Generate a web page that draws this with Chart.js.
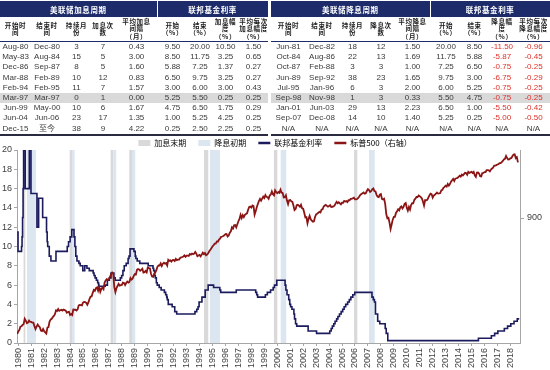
<!DOCTYPE html>
<html>
<head>
<meta charset="utf-8">
<script src="https://cdn.jsdelivr.net/npm/chart.js@4.4.0/dist/chart.umd.min.js"></script>
<style>
body { margin: 0; width: 550px; height: 370px; background: #fff; overflow: hidden; position: relative; }
.tbl { position: absolute; top: 1px; border-collapse: collapse; table-layout: fixed; font: 8px "Liberation Sans", "Noto Sans CJK SC", sans-serif; color: #3a3a3a; }
.tbl th, .tbl td { padding: 0; text-align: center; white-space: nowrap; }
.tbl td { overflow: hidden; }
.tbl tr.r1 th { height: 16px; background: #1d2b6b; color: #fff; font: bold 7.5px "Noto Sans CJK SC", sans-serif; letter-spacing: 0.6px; border-right: 1px solid #fff; }
.tbl tr.r2 th { height: 24px; font: bold 6.5px/7.4px "Noto Sans CJK SC", sans-serif; letter-spacing: 0.6px; color: #1a1a1a; border-bottom: 1px solid #1d2b6b; vertical-align: middle; }
.tbl tr.rd td { height: 10.2px; line-height: 10px; }
.tbl tr.hl td { background: #d9d9d9; }
.tbl tr.last td { border-bottom: 2px solid #2a2a40; }
.tbl td.neg { color: #e0302a; }
#wrap { position: absolute; left: 0; top: 135px; width: 550px; height: 235px; }
</style>
</head>
<body>
<div id="wrap"><canvas id="myChart"></canvas></div>
<script>
// ---- table data ----
var hikeTitles = ['美联储加息周期', '联邦基金利率'];
var hikeHeads = ['开始时\n间', '结束时\n间', '持续月\n份', '加息次\n数', '平均加息\n间隔\n（月）', '开始\n（%）', '结束\n（%）', '加息幅\n度\n（%）', '平均每次\n加息幅度\n（%）'];
var hikeStart = ['Aug-80', 'May-83', 'Dec-86', 'Mar-88', 'Feb-94', 'Mar-97', 'Jun-99', 'Jun-04', 'Dec-15'];
var hikeEnd = ['Dec-80', 'Aug-84', 'Sep-87', 'Feb-89', 'Feb-95', 'Mar-97', 'May-00', 'Jun-06', '至今'];
var hikeMonths = ['3', '15', '8', '10', '11', '0', '10', '23', '38'];
var hikeCount = ['7', '5', '5', '12', '7', '1', '6', '17', '9'];
var hikeInterval = ['0.43', '3.00', '1.60', '0.83', '1.57', '0.00', '1.67', '1.35', '4.22'];
var hikeRateFrom = ['9.50', '8.50', '5.88', '6.50', '3.00', '5.25', '4.75', '1.00', '0.25'];
var hikeRateTo = ['20.00', '11.75', '7.25', '9.75', '6.00', '5.50', '6.50', '5.25', '2.50'];
var hikeSize = ['10.50', '3.25', '1.37', '3.25', '3.00', '0.25', '1.75', '4.25', '2.25'];
var hikeAvg = ['1.50', '0.65', '0.27', '0.27', '0.43', '0.25', '0.29', '0.25', '0.25'];

var cutTitles = ['美联储降息周期', '联邦基金利率'];
var cutHeads = ['开始时\n间', '结束时\n间', '持续月\n份', '降息次\n数', '平均降息\n间隔\n（月）', '开始\n（%）', '结束\n（%）', '降息幅\n度\n（%）', '平均每次\n降息幅度\n（%）'];
var cutStart = ['Jun-81', 'Oct-84', 'Oct-87', 'Jun-89', 'Jul-95', 'Sep-98', 'Jan-01', 'Sep-07', 'N/A'];
var cutEnd = ['Dec-82', 'Aug-86', 'Feb-88', 'Sep-92', 'Jan-96', 'Nov-98', 'Jun-03', 'Dec-08', 'N/A'];
var cutMonths = ['18', '22', '3', '38', '6', '1', '29', '14', 'N/A'];
var cutCount = ['12', '13', '3', '23', '3', '3', '13', '10', 'N/A'];
var cutInterval = ['1.50', '1.69', '1.00', '1.65', '2.00', '0.33', '2.23', '1.40', 'N/A'];
var cutRateFrom = ['20.00', '11.75', '7.25', '9.75', '6.00', '5.50', '6.50', '5.25', 'N/A'];
var cutRateTo = ['8.50', '5.88', '6.50', '3.00', '5.25', '4.75', '1.00', '0.25', 'N/A'];
var cutSize = ['-11.50', '-5.87', '-0.75', '-6.75', '-0.75', '-0.75', '-5.50', '-5.00', 'N/A'];
var cutAvg = ['-0.96', '-0.45', '-0.25', '-0.29', '-0.25', '-0.25', '-0.42', '-0.50', 'N/A'];

// ---- chart data ----
var xTickLabels = ['1980','1981','1982','1983','1984','1985','1986','1987','1988','1989','1990','1991','1992','1993','1994','1995','1996','1997','1998','1999','2000','2001','2002','2003','2004','2005','2006','2007','2008','2009','2010','2011','2012','2013','2014','2015','2016','2017','2018'];

// fed funds target: date (decimal year) of each change and the new rate
var fedDates = [1980.33,1980.40,1980.67,1980.71,1980.75,1980.79,1980.83,1980.96,1981.27,1981.40,1981.86,1981.99,1982.30,1982.60,1982.65,1982.69,1982.81,1982.94,1983.33,
  1984.20,1984.30,1984.42,1984.55,1984.72,1984.79,1984.86,1984.95,1985.10,1985.20,1985.40,1985.55,1985.72,1985.90,1986.20,1986.27,1986.35,1986.45,1986.55,1986.62,
  1987.13,1987.30,1987.45,1987.58,1987.80,1987.90,1988.30,1988.40,1988.50,1988.60,1988.75,1988.90,1988.97,1989.05,1989.35,1989.45,1989.50,1989.60,1989.80,
  1990.45,1990.82,1990.87,1990.95,1991.00,1991.08,1991.15,1991.30,1991.45,1991.70,1991.80,1991.88,1991.92,1992.00,1992.30,1992.50,1992.65,
  1994.06,1994.20,1994.30,1994.38,1994.60,1994.85,1995.08,1995.50,1995.98,1996.05,1997.25,1998.75,1998.83,1998.90,1999.50,1999.65,1999.90,2000.10,2000.20,2000.38,
  2001.02,2001.08,2001.17,2001.30,2001.38,2001.45,2001.55,2001.70,2001.75,2001.83,2001.92,2002.80,2003.45,
  2004.47,2004.58,2004.67,2004.78,2004.88,2005.00,2005.10,2005.22,2005.35,2005.47,2005.58,2005.70,2005.85,2005.98,2006.10,2006.25,2006.40,
  2007.73,2007.83,2007.92,2008.00,2008.17,2008.33,2008.75,2008.83,2008.95,
  2015.95,2016.95,2017.20,2017.45,2017.95,2018.20,2018.45,2018.70,2018.95,2019.10];
var fedRates = [11.5,9.5,10,11,13,16,20,16,20,15.5,12,15,13,11.5,10.5,10,9,8.5,9.5,
  10,10.5,11,11.75,11,10,9,8.5,8.25,8,7.5,8,7.75,7.5,7.25,7,6.75,6.5,6.25,5.88,
  6,6.5,6.75,7.25,6.75,6.5,6.75,7,7.5,8,8.25,8.75,9,9.75,9.5,9,8.75,8.5,8.25,
  8,7.75,7.5,7,6.75,6.25,6,5.75,5.5,5.25,5,4.75,4.5,4,3.75,3.25,3,
  3.25,3.5,3.75,4.25,4.75,5.5,6,5.75,5.5,5.25,5.5,5.25,5,4.75,5,5.25,5.5,5.75,6,6.5,
  6,5.5,5,4.5,4,3.75,3.5,3,2.5,2,1.75,1.25,1,
  1.25,1.5,1.75,2,2.25,2.5,2.75,3,3.25,3.5,3.75,4,4.25,4.5,4.75,5,5.25,
  4.75,4.5,4.25,3,2.25,2,1.5,1,0.25,
  0.5,0.75,1,1.25,1.5,1.75,2,2.25,2.5,2.5];

// S&P 500 month-end closes, starting April 1980
var spxStartYear = 1980, spxStartMonth = 4;
var spx = [
  106.3,111.2,114.2,121.7,122.4,125.5,127.5,140.5,135.8,
  129.6,131.3,136.0,132.8,132.6,131.2,130.9,122.8,116.2,121.9,126.4,122.6,
  120.4,113.1,112.0,116.4,111.9,109.6,107.1,119.5,120.4,133.7,138.5,140.6,
  145.3,148.1,153.0,164.4,162.4,168.1,162.6,164.4,166.1,163.6,166.4,164.9,
  163.4,157.1,159.2,160.1,150.6,153.2,150.7,166.7,166.1,166.1,163.6,167.2,
  179.6,181.2,180.7,179.8,189.6,191.9,190.9,188.6,182.1,189.8,202.2,211.3,
  211.8,226.9,238.9,235.5,247.4,250.8,236.1,252.9,231.3,244.0,249.2,242.2,
  274.1,284.2,291.7,288.4,290.1,304.0,318.7,329.8,321.8,251.8,230.3,247.1,
  257.1,267.8,258.9,261.3,262.2,273.5,272.0,261.5,271.9,279.0,273.7,277.7,
  297.5,288.9,294.9,309.6,320.5,318.0,346.1,351.5,349.2,340.4,346.0,353.4,
  329.1,331.9,339.9,330.8,361.2,358.0,356.2,322.6,306.1,304.0,322.2,330.2,
  343.9,367.1,375.2,375.3,389.8,371.2,387.8,395.4,387.9,392.5,375.2,417.1,
  408.8,412.7,403.7,415.0,415.4,408.1,424.2,414.0,417.8,418.7,431.4,435.7,
  438.8,443.4,451.7,440.2,450.2,450.5,448.1,463.6,458.9,467.8,461.8,466.5,
  481.6,467.1,445.8,450.9,456.5,444.3,458.3,475.5,462.7,472.4,453.7,459.3,
  470.4,487.4,500.7,514.7,533.4,544.8,562.1,561.9,584.4,581.5,605.4,615.9,
  636.0,640.4,645.5,654.2,669.1,670.6,640.0,652.0,687.3,705.3,757.0,740.7,
  786.2,790.8,757.1,801.3,848.3,885.1,954.3,899.5,947.3,914.6,955.4,970.4,
  980.3,1049.3,1101.8,1111.8,1090.8,1133.8,1120.7,957.3,1017.0,1098.7,1163.6,1229.2,
  1279.6,1238.3,1286.4,1335.2,1301.8,1372.7,1328.7,1320.4,1282.7,1362.9,1388.9,1469.3,
  1394.5,1366.4,1498.6,1452.4,1420.6,1454.6,1430.8,1517.7,1436.5,1429.4,1315.2,1320.3,
  1366.0,1239.9,1160.3,1249.5,1255.8,1224.4,1211.2,1133.6,1040.9,1059.8,1139.5,1148.1,
  1130.2,1106.7,1147.4,1076.9,1067.1,989.8,911.6,916.1,815.3,885.8,936.3,879.8,
  855.7,841.2,848.2,916.9,963.6,974.5,990.3,1008.0,996.0,1050.7,1058.2,1111.9,
  1131.1,1144.9,1126.2,1107.3,1120.7,1140.8,1101.7,1104.2,1114.6,1130.2,1173.8,1211.9,
  1181.3,1203.6,1180.6,1156.9,1191.5,1191.3,1234.2,1220.3,1228.8,1207.0,1249.5,1248.3,
  1280.1,1280.7,1294.9,1310.6,1270.1,1270.2,1276.7,1303.8,1335.9,1377.9,1400.6,1418.3,
  1438.2,1406.8,1420.9,1482.4,1530.6,1503.4,1455.3,1474.0,1526.8,1549.4,1481.1,1468.4,
  1378.6,1330.6,1322.7,1385.6,1400.4,1280.0,1267.4,1282.8,1166.4,968.8,896.2,903.3,
  825.9,735.1,797.9,872.8,919.1,919.3,987.5,1020.6,1057.1,1036.2,1095.6,1115.1,
  1073.9,1104.5,1169.4,1186.7,1089.4,1030.7,1101.6,1049.3,1141.2,1183.3,1180.6,1257.6,
  1286.1,1327.2,1325.8,1363.6,1345.2,1320.6,1292.3,1218.9,1131.4,1253.3,1247.0,1257.6,
  1312.4,1365.7,1408.5,1397.9,1310.3,1362.2,1379.3,1406.6,1440.7,1412.2,1416.2,1426.2,
  1498.1,1514.7,1569.2,1597.6,1630.7,1606.3,1685.7,1633.0,1681.6,1756.5,1805.8,1848.4,
  1782.6,1859.5,1872.3,1884.0,1923.6,1960.2,1930.7,2003.4,1972.3,2018.1,2067.6,2058.9,
  1995.0,2104.5,2067.9,2085.5,2107.4,2063.1,2103.8,1972.2,1920.0,2079.4,2080.4,2043.9,
  1940.2,1932.2,2059.7,2065.3,2097.0,2098.9,2173.6,2171.0,2168.3,2126.2,2199.0,2238.8,
  2278.9,2363.6,2362.7,2384.2,2411.8,2423.4,2470.3,2471.7,2519.4,2575.3,2647.6,2673.6,
  2823.8,2713.8,2640.9,2648.1,2705.3,2718.4,2816.3,2901.5,2914.0,2711.7,2760.2,2506.9
];

// shaded periods (decimal years)
var hikeEndBands = [[1980.83,1980.96],[1984.39,1984.57],[1987.55,1987.75],[1988.99,1989.2],[1994.76,1995.09],[2000.16,2000.42],[2006.35,2006.6]];
var cutStartBands = [[1981.09,1981.78],[1984.57,1984.77],[1987.75,1987.98],[1989.2,1989.45],[1995.22,1995.99],[2000.68,2001.11],[2007.5,2007.94]];

// ---- table ----
function makeTable(left, widths, titles, heads, cols, redFrom) {
    var t = document.createElement('table');
    t.className = 'tbl';
    t.style.left = left + 'px';
    t.style.width = widths.reduce(function (a, b) { return a + b; }, 0) + 'px';
    var html = '<colgroup>' + widths.map(function (w) { return '<col style="width:' + w + 'px">'; }).join('') + '</colgroup>';
    html += '<tr class="r1"><th colspan="5">' + titles[0] + '</th><th colspan="4">' + titles[1] + '</th></tr>';
    html += '<tr class="r2">' + heads.map(function (h) { return '<th>' + h.replace(/\n/g, '<br>') + '</th>'; }).join('') + '</tr>';
    var n = cols[0].length;
    for (var r = 0; r < n; r++) {
        var cls = 'rd' + (r === 5 ? ' hl' : '') + (r === n - 1 ? ' last' : '');
        html += '<tr class="' + cls + '">';
        for (var c = 0; c < cols.length; c++) {
            var red = c >= redFrom && cols[c][r] !== 'N/A';
            html += '<td' + (red ? ' class="neg"' : '') + '>' + cols[c][r] + '</td>';
        }
        html += '</tr>';
    }
    t.innerHTML = html;
    document.body.appendChild(t);
}

makeTable(0, [31, 32, 27, 26, 41, 31, 24, 27, 29], hikeTitles, hikeHeads,
    [hikeStart, hikeEnd, hikeMonths, hikeCount, hikeInterval, hikeRateFrom, hikeRateTo, hikeSize, hikeAvg], 99);
makeTable(271, [35, 32, 29, 28, 35, 32, 25, 30, 33], cutTitles, cutHeads,
    [cutStart, cutEnd, cutMonths, cutCount, cutInterval, cutRateFrom, cutRateTo, cutSize, cutAvg], 7);

// ---- chart ----
var fedPoints = fedDates.map(function (d, i) { return {x: d, y: fedRates[i]}; });
var spxPoints = spx.map(function (v, i) { return {x: spxStartYear + (spxStartMonth + i) / 12, y: v}; });

var bandPlugin = {
    id: 'bands',
    beforeDatasetsDraw: function (chart) {
        var xs = chart.scales.x, a = chart.chartArea, ctx = chart.ctx;
        ctx.save();
        function draw(list, color) {
            ctx.fillStyle = color;
            list.forEach(function (b) {
                var x0 = xs.getPixelForValue(b[0]), x1 = xs.getPixelForValue(b[1]);
                ctx.fillRect(x0, a.top, x1 - x0, a.bottom - a.top);
            });
        }
        draw(hikeEndBands, '#d9d9d9');
        draw(cutStartBands, '#dce6f1');
        ctx.restore();
    }
};

// keep the legend strip short
var legendFit = {
    id: 'legendFit',
    beforeLayout: function (chart) {
        var lg = chart.legend;
        if (lg && !lg._short) {
            var f = lg.fit;
            lg.fit = function () { f.call(this); this.height = 15; };
            lg._short = true;
        }
    }
};

var navy = '#1b1b5e', darkRed = '#8b1414';
var legendItems = [
    {text: '加息末期\u3000', fillStyle: '#d9d9d9', strokeStyle: '#d9d9d9', lineWidth: 0, pointStyle: 'rect', hidden: false},
    {text: '降息初期\u3000', fillStyle: '#dce6f1', strokeStyle: '#dce6f1', lineWidth: 0, pointStyle: 'rect', hidden: false},
    {text: '联邦基金利率\u3000', fillStyle: navy, strokeStyle: navy, lineWidth: 2.5, pointStyle: 'line', hidden: false},
    {text: '标普500（右轴）', fillStyle: darkRed, strokeStyle: darkRed, lineWidth: 2.5, pointStyle: 'line', hidden: false}
];

Chart.defaults.font.family = '"Liberation Sans", "Noto Sans CJK SC", sans-serif';
Chart.defaults.color = '#404040';

var ctx = document.getElementById('myChart').getContext('2d');
var myChart = new Chart(ctx, {
    type: 'line',
    data: {
        datasets: [{
            label: '联邦基金利率',
            data: fedPoints,
            yAxisID: 'y',
            borderColor: navy,
            borderWidth: 1.6,
            stepped: true,
            pointRadius: 0,
            order: 1
        }, {
            label: '标普500（右轴）',
            data: spxPoints,
            yAxisID: 'y2',
            borderColor: darkRed,
            borderWidth: 1.8,
            pointRadius: 0,
            order: 0
        }]
    },
    options: {
        responsive: true,
        maintainAspectRatio: false,
        animation: false,
        layout: {padding: 0},
        plugins: {
            legend: {
                position: 'top',
                labels: {
                    usePointStyle: true,
                    pointStyleWidth: 12,
                    boxHeight: 6,
                    padding: 4,
                    color: '#595959',
                    font: {size: 8, family: '"Noto Sans CJK SC", sans-serif'},
                    generateLabels: function () { return legendItems; }
                }
            },
            tooltip: {enabled: false}
        },
        scales: {
            x: {
                type: 'linear',
                min: 1980.32,
                max: 2019.16,
                afterBuildTicks: function (s) {
                    s.ticks = xTickLabels.map(function (l) { return {value: Number(l) + 0.417}; });
                },
                ticks: {
                    autoSkip: false, minRotation: 90, maxRotation: 90, padding: 2,
                    font: {size: 9},
                    callback: function (v, i) { return xTickLabels[i]; }
                },
                grid: {display: true, drawOnChartArea: false, tickLength: 3, color: '#a6a6a6'},
                border: {color: '#a6a6a6'},
                afterFit: function (s) { s.height = 27; }
            },
            y: {
                position: 'left',
                min: 0,
                max: 20,
                ticks: {stepSize: 2, padding: 2, font: {size: 9}},
                grid: {display: true, drawOnChartArea: false, tickLength: 3, color: '#a6a6a6'},
                border: {color: '#a6a6a6'},
                afterFit: function (s) { s.width = 17; }
            },
            y2: {
                type: 'logarithmic',
                position: 'right',
                min: 90,
                max: 3150,
                afterBuildTicks: function (s) { s.ticks = [{value: 900}]; },
                ticks: {padding: 3, font: {size: 9}, callback: function (v) { return String(v); }},
                grid: {display: true, drawOnChartArea: false, tickLength: 4, color: '#a6a6a6'},
                border: {color: '#a6a6a6'},
                afterFit: function (s) { s.width = 30; }
            }
        }
    },
    plugins: [bandPlugin, legendFit]
});
</script>
</body>
</html>
